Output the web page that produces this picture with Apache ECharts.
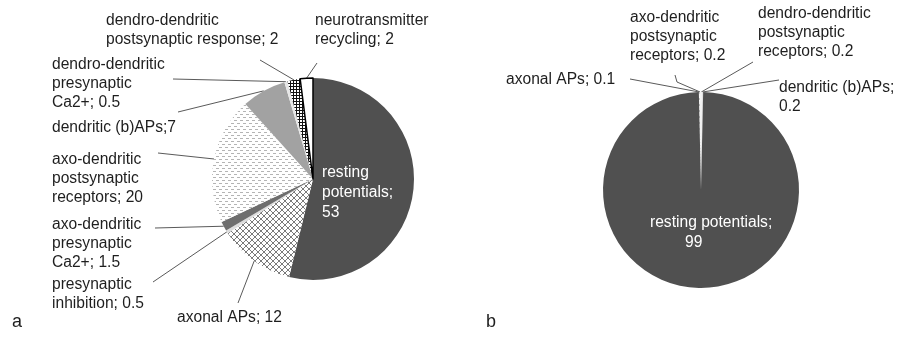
<!DOCTYPE html>
<html><head><meta charset="utf-8">
<script src="https://cdn.jsdelivr.net/npm/echarts@6/dist/echarts.min.js"></script>
<style>html,body{margin:0;padding:0;background:#fff}#c{width:907px;height:339px}</style>
</head><body><div id="c"></div>
<script>
// ---------- DATA ----------
const categoriesA = [
  'resting\npotentials',
  'axonal APs',
  'presynaptic\ninhibition',
  'axo-dendritic\npresynaptic\nCa2+',
  'axo-dendritic\npostsynaptic\nreceptors',
  'dendritic (b)APs',
  'dendro-dendritic\npresynaptic\nCa2+',
  'dendro-dendritic\npostsynaptic response',
  'neurotransmitter\nrecycling'
];
const valuesA = [53, 12, 0.5, 1.5, 20, 7, 0.5, 2, 2];
const separatorsA = ['\n', ' ', ' ', ' ', ' ', '', ' ', ' ', ' '];

const categoriesB = [
  'axonal APs',
  'axo-dendritic\npostsynaptic\nreceptors',
  'dendro-dendritic\npostsynaptic\nreceptors',
  'dendritic (b)APs',
  'resting potentials'
];
const valuesB = [0.1, 0.2, 0.2, 0.2, 99];
const separatorsB = [' ', ' ', ' ', '\n', '\n'];

const panelLabels = ['a', 'b'];

// ---------- STYLE / LAYOUT ----------
const FONT = "'Liberation Sans', Arial, sans-serif";
const TEXT = '#1e1e1e';

function pattern(w, h, draw) {
  const c = document.createElement('canvas');
  c.width = w; c.height = h;
  const g = c.getContext('2d');
  draw(g);
  return { image: c, repeat: 'repeat' };
}
const crossHatch = pattern(6, 6, g => {
  g.fillStyle = '#fff'; g.fillRect(0, 0, 6, 6);
  g.strokeStyle = '#7a7a7a'; g.lineWidth = 1;
  g.beginPath(); g.moveTo(0, 0); g.lineTo(6, 6); g.moveTo(6, 0); g.lineTo(0, 6); g.stroke();
});
const dashes = pattern(6, 6, g => {
  g.fillStyle = '#fff'; g.fillRect(0, 0, 6, 6);
  g.fillStyle = '#b4b4b4';
  g.fillRect(0, 0, 3, 1); g.fillRect(3, 3, 3, 1);
});
const checker = pattern(3, 3, g => {
  g.fillStyle = '#111'; g.fillRect(0, 0, 3, 3);
  g.fillStyle = '#fff'; g.fillRect(0, 0, 2, 2);
});

const colorsA = ['#505050', crossHatch, '#dcdcdc', '#6e6e6e', dashes, '#a2a2a2', '#e6e6e6', checker, '#ffffff'];
const colorsB = [crossHatch, '#eeeeee', '#f4f4f4', '#e0e0e0', '#505050'];

const placementA = [
  { x: 322, y: 163, inside: true },
  { x: 177, y: 308.5, end: [238, 303] },
  { x: 52, y: 275.5, end: [153, 282] },
  { x: 52, y: 215.5, end: [155, 228] },
  { x: 52, y: 150.5, end: [158, 153] },
  { x: 52, y: 118.5, end: [178, 112] },
  { x: 52, y: 55.5, end: [173, 79] },
  { x: 106, y: 11.5, end: [260, 60] },
  { x: 315, y: 11, end: [317, 63] }
];
const placementB = [
  { x: 506, y: 70.5, end: [630, 79] },
  { x: 630, y: 8.5, bend: [677, 82], end: [675, 75] },
  { x: 758, y: 4.5, end: [753, 62] },
  { x: 779, y: 78.5, end: [779, 80] },
  { x: 650, y: 213, inside: true }
];

function makeLayout(placement) {
  return function (params) {
    const p = placement[params.dataIndex];
    const out = { x: p.x, y: p.y, align: 'left', verticalAlign: 'top' };
    if (!p.inside && params.labelLinePoints) {
      const pts = [params.labelLinePoints[0]];
      if (p.bend) pts.push(p.bend);
      pts.push(p.end);
      out.labelLinePoints = pts;
    }
    return out;
  };
}

function buildData(cats, vals, seps, colors, placement, insideRich) {
  return cats.map((name, i) => {
    const item = {
      name: name,
      value: vals[i],
      itemStyle: { color: colors[i] }
    };
    if (placement[i].inside) {
      item.label = {
        position: 'inside',
        color: '#ffffff',
        lineHeight: 20,
        formatter: insideRich
          ? (p => p.name + ';' + seps[i] + '{v|' + p.value + '}')
          : (p => p.name + ';' + seps[i] + p.value),
        rich: { v: { color: '#ffffff', fontSize: 15.6, fontFamily: FONT, padding: [0, 0, 0, 35], lineHeight: 20 } }
      };
      item.labelLine = { show: false };
    } else {
      item.label = { formatter: p => p.name + ';' + seps[i] + p.value };
    }
    return item;
  });
}

const dataA = buildData(categoriesA, valuesA, separatorsA, colorsA, placementA, false);
dataA[8].itemStyle.borderColor = '#000';
dataA[8].itemStyle.borderWidth = 1.5;
const dataB = buildData(categoriesB, valuesB, separatorsB, colorsB, placementB, true);

const baseSeries = {
  type: 'pie',
  clockwise: true,
  avoidLabelOverlap: false,
  silent: true,
  label: {
    show: true, position: 'outside', alignTo: 'none',
    fontFamily: FONT, fontSize: 15.6, color: TEXT, lineHeight: 19
  },
  labelLine: { show: true, length: 10, length2: 0, smooth: false,
    lineStyle: { color: '#5a5a5a', width: 1 } },
  emphasis: { disabled: true }
};

const chart = echarts.init(document.getElementById('c'), null, { renderer: 'canvas' });
chart.setOption({
  backgroundColor: '#ffffff',
  animation: false,
  title: [
    { text: panelLabels[0], left: 12, top: 313, padding: 0,
      textStyle: { fontFamily: FONT, fontSize: 18, fontWeight: 'normal', color: TEXT } },
    { text: panelLabels[1], left: 486, top: 313, padding: 0,
      textStyle: { fontFamily: FONT, fontSize: 18, fontWeight: 'normal', color: TEXT } }
  ],
  series: [
    Object.assign({}, baseSeries, {
      center: [313, 179], radius: 101, startAngle: 90,
      data: dataA, labelLayout: makeLayout(placementA)
    }),
    Object.assign({}, baseSeries, {
      center: [701, 190], radius: 98,
      startAngle: 90 + (valuesB.slice(0, 4).reduce((a, b) => a + b, 0) / valuesB.reduce((a, b) => a + b, 0)) * 180,
      data: dataB, labelLayout: makeLayout(placementB)
    })
  ]
});
</script></body></html>
